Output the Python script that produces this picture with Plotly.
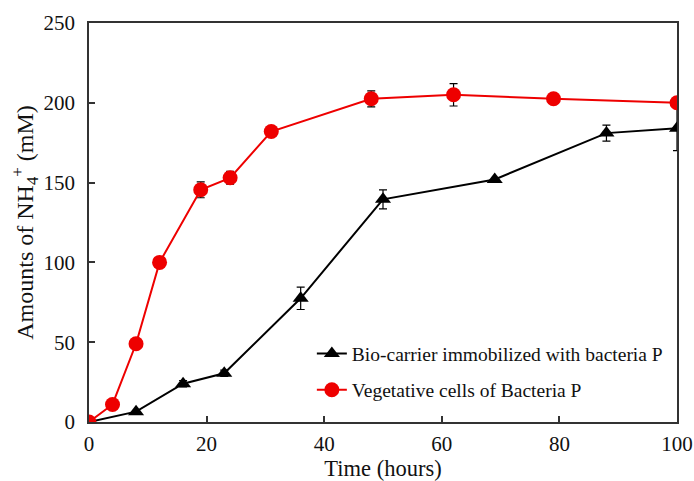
import plotly.graph_objects as go

# Data
veg_time = [0, 4, 8, 12, 19, 24, 31, 48, 62, 79, 100]
veg_nh4 = [0, 11, 49, 100, 145.5, 153, 182, 202.5, 205, 202.5, 200]
veg_err = [0, 0, 0, 0, 5, 4, 0, 5, 7, 3, 2]

bio_time = [0, 8, 16, 23, 36, 50, 69, 88, 100]
bio_nh4 = [0, 6.5, 24, 30.5, 77.5, 139.5, 152, 181, 184]
bio_err = [0, 0, 2, 2, 7, 6, 0, 5, 14]

x_ticks = [0, 20, 40, 60, 80, 100]
y_ticks = [0, 50, 100, 150, 200, 250]

font_family = "Liberation Serif, Times New Roman, serif"

fig = go.Figure()
fig.add_trace(go.Scatter(
    x=bio_time, y=bio_nh4, mode="lines+markers",
    name="Bio-carrier immobilized with bacteria P",
    legendgroup="bio",
    line=dict(color="black", width=2),
    marker=dict(symbol="triangle-up", size=14, color="black"),
    error_y=dict(type="data", array=bio_err, visible=True, color="black", thickness=1.2, width=4),
))
fig.add_trace(go.Scatter(
    x=veg_time, y=veg_nh4, mode="lines+markers",
    name="Vegetative cells of Bacteria P",
    legendgroup="veg",
    line=dict(color="#ee0000", width=2),
    marker=dict(symbol="circle", size=15, color="#ee0000"),
    error_y=dict(type="data", array=veg_err, visible=True, color="black", thickness=1.2, width=4),
))

axis_common = dict(
    showline=True, linecolor="#333", linewidth=1.5, mirror=True,
    ticks="inside", ticklen=6, tickcolor="#333", tickwidth=1.5,
    showgrid=False, zeroline=False, automargin=False,
    tickfont=dict(family=font_family, size=21, color="#111"),
)

fig.update_layout(
    width=694, height=481,
    margin=dict(l=89, r=17, t=23, b=59, autoexpand=False),
    plot_bgcolor="white", paper_bgcolor="white",
    font=dict(family=font_family, color="#111"),
    xaxis=dict(range=[0, 100], tickvals=x_ticks, ticklabelstandoff=2,
               title=dict(text="Time (hours)", font=dict(family=font_family, size=22.5), standoff=2),
               **axis_common),
    yaxis=dict(range=[0, 250], tickvals=y_ticks, ticklabelstandoff=8,
               title=dict(text="Amounts of NH<sub>4</sub><sup>+</sup> (mM)", font=dict(family=font_family, size=24), standoff=3),
               **axis_common),
    legend=dict(x=0.379, y=0.22, xanchor="left", yanchor="top",
                font=dict(family=font_family, size=19.5, color="#111"),
                bgcolor="rgba(0,0,0,0)", traceorder="grouped", tracegroupgap=8),
    showlegend=True,
)

fig.write_html("out.html")
